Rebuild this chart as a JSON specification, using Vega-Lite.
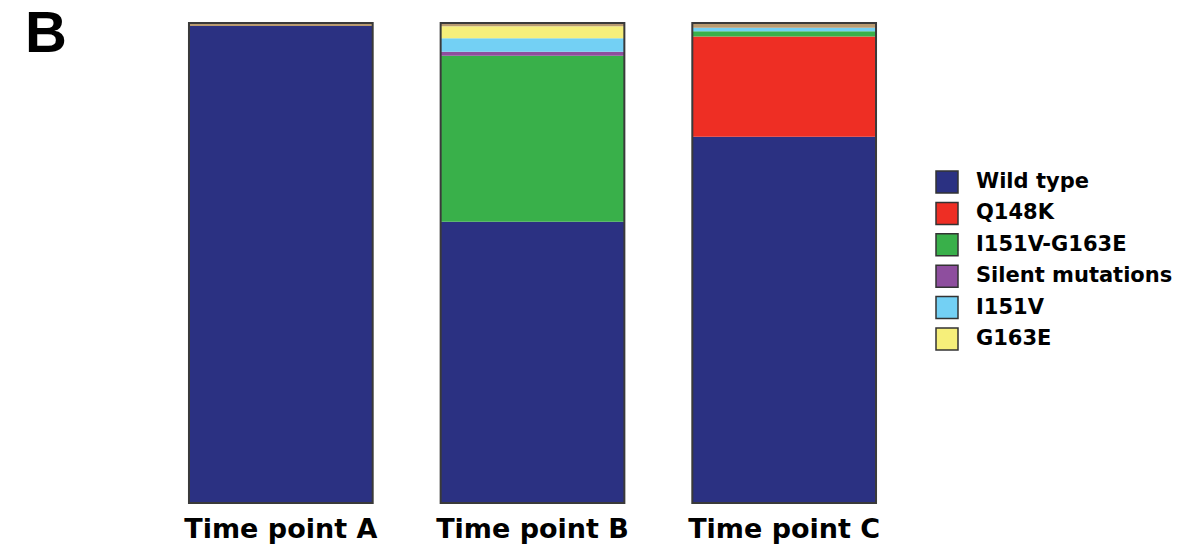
{
  "$schema": "https://vega.github.io/schema/vega-lite/v6.json",
  "autosize": "none",
  "width": 755,
  "height": 480,
  "padding": {"left": 155, "top": 23, "right": 278, "bottom": 42},
  "background": "white",
  "config": {"view": {"stroke": null}},
  "title": {
    "text": "B",
    "anchor": "start",
    "frame": "group",
    "orient": "top",
    "offset": 0,
    "dx": -130,
    "dy": 42,
    "baseline": "top",
    "fontSize": 58,
    "font": "Liberation Sans",
    "fontWeight": "bold",
    "color": "black"
  },
  "data": {
    "values": [
      {"time": "Time point A", "variant": "Wild type", "rank": 1, "value": 99.4},
      {"time": "Time point A", "variant": "Other", "rank": 7, "value": 0.6},
      {"time": "Time point B", "variant": "Wild type", "rank": 1, "value": 58.6},
      {"time": "Time point B", "variant": "I151V-G163E", "rank": 3, "value": 34.6},
      {"time": "Time point B", "variant": "Silent mutations", "rank": 4, "value": 0.8},
      {"time": "Time point B", "variant": "I151V", "rank": 5, "value": 2.8},
      {"time": "Time point B", "variant": "G163E", "rank": 6, "value": 2.5},
      {"time": "Time point B", "variant": "Other", "rank": 7, "value": 0.7},
      {"time": "Time point C", "variant": "Wild type", "rank": 1, "value": 76.3},
      {"time": "Time point C", "variant": "Q148K", "rank": 2, "value": 20.9},
      {"time": "Time point C", "variant": "I151V-G163E", "rank": 3, "value": 1.1},
      {"time": "Time point C", "variant": "I151V", "rank": 5, "value": 0.7},
      {"time": "Time point C", "variant": "Other", "rank": 7, "value": 1.0}
    ]
  },
  "encoding": {
    "x": {
      "field": "time",
      "type": "nominal",
      "sort": null,
      "scale": {"paddingInner": 0.27, "paddingOuter": 0.135},
      "axis": {
        "title": null,
        "labelAngle": 0,
        "ticks": false,
        "domain": false,
        "labelPadding": 13,
        "labelLimit": 400,
        "labelFont": "DejaVu Sans",
        "labelFontWeight": "bold",
        "labelFontSize": 27,
        "labelColor": "black"
      }
    }
  },
  "layer": [
    {
      "mark": {"type": "bar"},
      "encoding": {
        "y": {
          "field": "value",
          "type": "quantitative",
          "stack": "zero",
          "scale": {"domain": [0, 100], "nice": false},
          "axis": null
        },
        "order": {"field": "rank", "type": "quantitative"},
        "color": {
          "field": "variant",
          "type": "nominal",
          "scale": {
            "domain": ["Wild type", "Q148K", "I151V-G163E", "Silent mutations", "I151V", "G163E", "Other"],
            "range": ["#2B3182", "#EE2E24", "#39B04A", "#8E4E9E", "#73D0F4", "#F6EF7A", "#B89A70"]
          },
          "legend": {
            "values": ["Wild type", "Q148K", "I151V-G163E", "Silent mutations", "I151V", "G163E"],
            "title": null,
            "orient": "none",
            "legendX": 780,
            "legendY": 147,
            "symbolType": "square",
            "symbolSize": 484,
            "symbolStrokeColor": "#333333",
            "symbolStrokeWidth": 1.5,
            "symbolOpacity": 1,
            "labelFont": "DejaVu Sans",
            "labelFontWeight": "bold",
            "labelFontSize": 21,
            "labelColor": "black",
            "labelOffset": 17,
            "rowPadding": 3.4,
            "labelLimit": 400
          }
        }
      }
    },
    {
      "mark": {"type": "bar", "fill": null, "fillOpacity": 0, "stroke": "#3a3a3a", "strokeWidth": 2},
      "encoding": {
        "y": {"aggregate": "sum", "field": "value", "type": "quantitative"}
      }
    }
  ]
}
